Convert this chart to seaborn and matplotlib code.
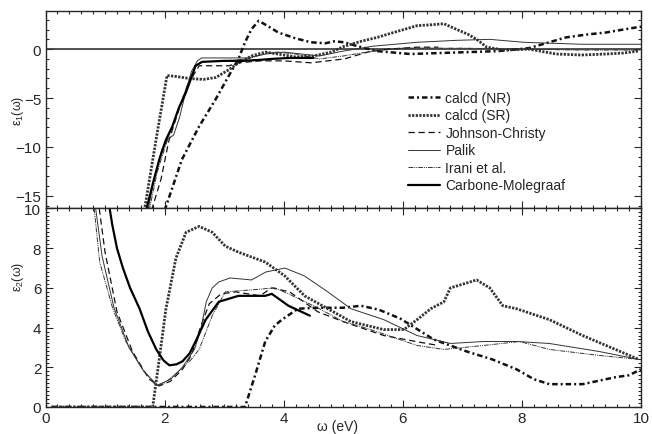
import matplotlib
matplotlib.use('Agg')
import matplotlib.pyplot as plt
import seaborn as sns
from matplotlib.ticker import MultipleLocator

# ---- data: eps1 (upper panel) ----
nr1_x = [2.0, 2.29, 2.58, 2.86, 3.08, 3.24, 3.35, 3.46, 3.58, 3.75, 3.91, 4.2, 4.46, 4.7, 4.85, 5.02, 5.24, 5.57, 6.13, 6.6, 7.12, 7.6, 8.12, 8.4, 8.74, 9.1, 9.41, 9.7, 10.0]
nr1_y = [-16.5, -11.3, -7.9, -5.1, -2.7, -1.0, 0.7, 2.05, 2.9, 2.3, 1.7, 1.1, 0.7, 0.6, 0.8, 0.7, 0.3, -0.2, -0.5, -0.4, -0.3, -0.2, 0.1, 0.6, 1.2, 1.5, 1.7, 2.0, 2.3]

sr1_x = [1.66, 1.85, 2.04, 2.2, 2.41, 2.65, 2.86, 3.08, 3.24, 3.46, 3.69, 3.9, 4.2, 4.5, 4.8, 5.02, 5.3, 5.57, 5.9, 6.24, 6.5, 6.69, 6.91, 7.1, 7.24, 7.41, 7.7, 8.12, 8.58, 9.0, 9.41, 9.7, 9.95]
sr1_y = [-16.5, -9.5, -2.7, -2.8, -3.0, -3.1, -2.9, -2.1, -1.4, -0.7, -0.3, -0.5, -0.8, -0.7, -0.3, 0.3, 0.8, 1.2, 1.8, 2.4, 2.5, 2.6, 2.0, 1.5, 1.0, 0.2, -0.1, 0.0, -0.5, -0.6, -0.5, -0.4, -0.2]

jc1_x = [1.78, 1.94, 2.07, 2.25, 2.41, 2.58, 2.8, 3.08, 3.24, 3.6, 4.0, 4.46, 5.02, 5.41, 5.74, 6.24, 6.6]
jc1_y = [-16.5, -13.3, -9.4, -6.0, -3.4, -1.7, -1.7, -1.7, -1.4, -1.2, -1.2, -1.4, -1.0, -0.3, 0.0, 0.2, 0.2]

palik1_x = [1.72, 1.82, 1.95, 2.05, 2.15, 2.25, 2.35, 2.45, 2.55, 2.62, 3.0, 3.4, 3.7, 4.0, 4.3, 4.6, 5.0, 5.5, 6.24, 6.9, 7.46, 8.03, 9.0, 10.0]
palik1_y = [-16.5, -13.5, -10.3, -9.2, -8.8, -7.0, -4.5, -2.3, -1.2, -0.9, -0.9, -0.9, -0.5, -0.3, -0.5, -0.7, -0.2, 0.3, 0.7, 0.9, 1.0, 0.7, 0.5, 0.5]

irani1_x = [1.74, 1.88, 2.02, 2.15, 2.3, 2.42, 2.52, 2.62, 3.0, 3.4, 3.7, 3.9, 4.2, 4.6, 5.0, 5.5, 6.0, 7.0, 8.0, 9.0, 10.0]
irani1_y = [-16.5, -12.5, -9.8, -7.5, -5.0, -3.0, -1.8, -1.3, -1.2, -1.0, -0.4, -0.3, -0.5, -1.0, -0.7, -0.2, 0.1, 0.1, 0.0, -0.1, -0.1]

cm1_x = [1.69, 1.8, 1.91, 2.02, 2.13, 2.24, 2.36, 2.45, 2.52, 2.63, 3.0, 3.3, 3.6, 3.8, 4.1, 4.5]
cm1_y = [-16.5, -13.8, -11.3, -9.3, -7.9, -6.0, -4.4, -2.9, -1.7, -1.3, -1.2, -1.2, -1.1, -1.0, -0.9, -0.9]

# ---- data: eps2 (lower panel) ----
nr2_x = [0.1, 3.35, 3.52, 3.69, 3.85, 3.97, 4.24, 4.57, 5.0, 5.3, 5.6, 5.96, 6.52, 7.07, 7.5, 7.91, 8.2, 8.46, 9.02, 9.57, 9.8, 10.0]
nr2_y = [0.0, 0.0, 1.6, 3.3, 4.1, 4.4, 4.95, 5.0, 5.0, 5.1, 4.9, 4.45, 3.4, 2.8, 2.4, 1.9, 1.4, 1.15, 1.15, 1.5, 1.6, 1.9]

sr2_x = [0.1, 1.8, 1.91, 2.02, 2.19, 2.36, 2.58, 2.8, 3.02, 3.24, 3.69, 4.02, 4.35, 4.74, 5.13, 5.68, 6.02, 6.24, 6.47, 6.69, 6.8, 7.02, 7.24, 7.46, 7.68, 7.91, 8.46, 9.02, 9.57, 9.96]
sr2_y = [0.0, 0.0, 2.4, 4.9, 7.5, 8.8, 9.1, 8.8, 8.1, 7.8, 7.3, 6.6, 5.6, 4.95, 4.3, 3.9, 3.9, 4.4, 4.95, 5.3, 6.0, 6.2, 6.4, 6.0, 5.1, 4.95, 4.4, 3.6, 2.9, 2.4]

jc2_x = [0.88, 1.0, 1.2, 1.46, 1.74, 1.91, 2.1, 2.3, 2.45, 2.6, 2.75, 2.95, 3.2, 3.6, 3.8, 4.1, 4.57, 5.0, 5.68, 6.4, 6.6]
jc2_y = [10.5, 7.8, 4.8, 2.8, 1.4, 1.06, 1.3, 1.9, 2.6, 4.0, 5.2, 5.7, 5.8, 5.6, 6.0, 5.8, 4.8, 4.3, 3.6, 3.2, 3.1]

palik2_x = [0.82, 0.95, 1.15, 1.4, 1.65, 1.88, 2.1, 2.3, 2.5, 2.6, 2.7, 2.8, 2.91, 3.1, 3.46, 3.7, 4.02, 4.35, 4.74, 5.13, 5.68, 6.24, 6.8, 7.36, 7.91, 8.46, 9.29, 9.96]
palik2_y = [10.5, 7.6, 5.0, 3.0, 1.8, 1.1, 1.4, 2.0, 2.9, 3.8, 5.3, 6.0, 6.3, 6.5, 6.4, 6.8, 7.0, 6.6, 5.8, 4.95, 4.4, 3.6, 3.2, 3.3, 3.3, 3.2, 2.8, 2.4]

irani2_x = [0.8, 0.91, 1.13, 1.35, 1.63, 1.86, 2.0, 2.24, 2.45, 2.58, 2.8, 3.02, 3.46, 3.85, 4.08, 4.57, 5.0, 5.41, 6.24, 6.69, 7.36, 7.96, 8.46, 9.29, 9.96]
irani2_y = [10.5, 7.3, 4.95, 3.3, 1.9, 1.06, 1.2, 1.8, 2.4, 2.9, 4.6, 5.8, 5.9, 6.0, 5.7, 5.0, 4.3, 3.95, 3.1, 2.9, 3.1, 3.3, 2.9, 2.6, 2.4]

cm2_x = [1.05, 1.12, 1.2, 1.3, 1.42, 1.58, 1.72, 1.86, 1.98, 2.08, 2.2, 2.3, 2.42, 2.52, 2.69, 2.91, 3.24, 3.69, 3.8, 4.08, 4.44]
cm2_y = [10.5, 9.2, 8.0, 7.0, 6.0, 4.95, 3.8, 2.9, 2.35, 2.1, 2.15, 2.3, 2.7, 3.3, 4.4, 5.3, 5.6, 5.6, 5.7, 5.1, 4.6]

labels = ['calcd (NR)', 'calcd (SR)', 'Johnson-Christy', 'Palik', 'Irani et al.', 'Carbone-Molegraaf']

# line styles per series
styles = [
    dict(color='#111111', lw=1.8, ls=(0, (2.2, 1.2, 0.8, 1.2))),
    dict(color='#333333', lw=2.0, ls=(0, (0.8, 0.5))),
    dict(color='#111111', lw=0.9, ls=(0, (5, 3))),
    dict(color='#333333', lw=0.7, ls='-'),
    dict(color='#333333', lw=0.7, ls=(0, (5, 1, 1, 1, 1, 1))),
    dict(color='#000000', lw=1.6, ls='-'),
]

sns.set_style('ticks')
plt.rcParams['font.family'] = ['Liberation Sans', 'DejaVu Sans']
plt.rcParams['mathtext.default'] = 'regular'

fig = plt.figure(figsize=(6.52, 4.35), dpi=100)
ax1 = fig.add_axes([0.0698, 0.5184, 0.9133, 0.454])
ax2 = fig.add_axes([0.0698, 0.0621, 0.9133, 0.4563], sharex=ax1)

top = [(nr1_x, nr1_y), (sr1_x, sr1_y), (jc1_x, jc1_y), (palik1_x, palik1_y), (irani1_x, irani1_y), (cm1_x, cm1_y)]
bot = [(nr2_x, nr2_y), (sr2_x, sr2_y), (jc2_x, jc2_y), (palik2_x, palik2_y), (irani2_x, irani2_y), (cm2_x, cm2_y)]

ax1.axhline(0, color='#333333', lw=1.2, zorder=1)
for (x, y), lab, st in zip(top, labels, styles):
    sns.lineplot(x=x, y=y, ax=ax1, sort=False, label=lab, color=st['color'],
                 linewidth=st['lw'], linestyle=st['ls'])
for (x, y), st in zip(bot, styles):
    sns.lineplot(x=x, y=y, ax=ax2, sort=False, color=st['color'],
                 linewidth=st['lw'], linestyle=st['ls'])

ax1.set_xlim(0, 10)
ax1.set_ylim(-16.3, 3.9)
ax2.set_ylim(0, 10)

ax1.yaxis.set_major_locator(MultipleLocator(5))
ax1.yaxis.set_minor_locator(MultipleLocator(1))
ax2.yaxis.set_major_locator(MultipleLocator(2))
ax2.yaxis.set_minor_locator(MultipleLocator(0.2))
ax2.xaxis.set_major_locator(MultipleLocator(2))
ax2.xaxis.set_minor_locator(MultipleLocator(0.2))

for ax in (ax1, ax2):
    ax.tick_params(which='both', direction='in', top=True, right=True, width=0.8)
    ax.tick_params(which='major', length=5, labelsize=11, pad=3)
    ax.tick_params(which='minor', length=2.5)
    for sp in ax.spines.values():
        sp.set_linewidth(1.0)
ax1.tick_params(labelbottom=False)

ax1.set_ylabel('ε$_1$(ω)', fontsize=9)
ax2.set_ylabel('ε$_2$(ω)', fontsize=9)
ax1.yaxis.set_label_coords(-0.033, 0.5)
ax2.yaxis.set_label_coords(-0.033, 0.66)
ax2.set_xlabel('ω (eV)', fontsize=10)
ax2.xaxis.set_label_coords(0.49, -0.06)

leg = ax1.legend(loc='upper left', bbox_to_anchor=(0.597, 0.63), frameon=False,
                 fontsize=10, handlelength=2.3, handletextpad=0.4,
                 labelspacing=0.25, borderpad=0)

fig.savefig('out.png', dpi=100)
